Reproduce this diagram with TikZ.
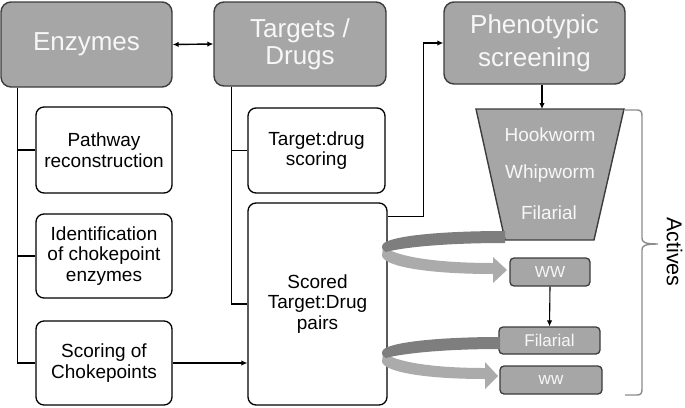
\documentclass[tikz,border=0pt]{standalone}
\usepackage{fontspec}
\setmainfont{Liberation Sans}
\usetikzlibrary{arrows.meta}
\definecolor{boxgray}{HTML}{A6A6A6}
\definecolor{edgegray}{HTML}{3C3C3C}
\definecolor{darkband}{HTML}{7E7E7E}
\definecolor{lightband}{HTML}{ABABAB}
\definecolor{bracegray}{HTML}{8C8C8C}
\definecolor{textwhite}{HTML}{F7F7F7}
\begin{document}
\begin{tikzpicture}[x=1pt,y=-1pt,
  hdr/.style={draw=edgegray, fill=boxgray, line width=1.4pt, rounded corners=10pt, text=textwhite, align=center, inner sep=0pt},
  sub/.style={draw=black, fill=white, line width=1.3pt, rounded corners=8pt, align=center, inner sep=0pt, font=\fontsize{19}{20.5}\selectfont},
  tag/.style={draw=edgegray, fill=boxgray, line width=1.3pt, rounded corners=4pt, text=textwhite, inner sep=0pt},
  ftext/.style={text=textwhite, font=\fontsize{19}{20}\selectfont, inner sep=0pt},
  conn/.style={draw=black, line width=1.4pt},
  tip/.style={-{Latex[length=6pt,width=5.5pt]}}
  ]
\useasboundingbox (0,0) rectangle (685,407);

% header boxes
\node[hdr, minimum width=171pt, minimum height=85pt, font=\fontsize{26}{27}\selectfont] (enz) at (86.5,44.5) {Enzymes};
\node[hdr, minimum width=172pt, minimum height=84pt, font=\fontsize{26}{27}\selectfont] (tgt) at (300,44) {Targets /\\Drugs};
\node[hdr, minimum width=181pt, minimum height=82pt, font=\fontsize{26}{33}\selectfont] (phen) at (534.5,43) {Phenotypic\\screening};

% white boxes
\node[sub, minimum width=136pt, minimum height=86pt] (path) at (104,150) {Pathway\\reconstruction};
\node[sub, minimum width=136pt, minimum height=84pt] (ident) at (104,256) {Identification\\of chokepoint\\enzymes};
\node[sub, minimum width=136pt, minimum height=84pt] (scoring) at (104,363) {Scoring of\\Chokepoints};
\node[sub, minimum width=137pt, minimum height=85pt] (tds) at (316.5,150.5) {Target:drug\\scoring};
\node[sub, minimum width=139pt, minimum height=202pt] (scored) at (317.5,304) {Scored\\Target:Drug\\pairs};

% funnel
\filldraw[draw=edgegray, fill=boxgray, line width=1.4pt] (476,109) -- (624,109) -- (594,240) -- (505,240) -- cycle;
\coordinate (ftop) at (542,109);
\node[ftext] (hook) at (550,135) {Hookworm};
\node[ftext] (whip) at (550,174) {Whipworm};
\node[ftext] (fil1) at (549,213) {Filarial};

% small tags
\node[tag, minimum width=80pt, minimum height=28pt, font=\fontsize{16}{17}\selectfont] (ww1) at (550,272) {WW};
\node[tag, minimum width=101pt, minimum height=27pt, font=\fontsize{17}{18}\selectfont] (fil2) at (549.5,340.5) {Filarial};
\node[tag, minimum width=102pt, minimum height=28pt, font=\fontsize{17}{18}\selectfont] (ww2) at (551,380) {ww};

% connectors
\draw[conn, {Latex[length=6pt,width=5.5pt]}-{Latex[length=6pt,width=5.5pt]}] (enz.east) -- (tgt.west);
\coordinate (etrunk) at ([xshift=17pt]enz.south west);
\draw[conn] (etrunk) |- (path.west);
\draw[conn] (etrunk) |- (ident.west);
\draw[conn] (etrunk) |- (scoring.west);
\coordinate (ttrunk) at ([xshift=18pt]tgt.south west);
\draw[conn] (ttrunk) |- (tds.west);
\draw[conn] (ttrunk) |- (scored.west);
\draw[conn, tip] (scoring.east) -- (scoring.east -| scored.west);
\coordinate (sout) at ([yshift=-14pt]scored.north east);
\draw[conn, tip] (sout) -- ++(36,0) |- (phen.west);
\draw[conn, tip] (ftop |- phen.south) -- (ftop);
\draw[conn, line width=1.1pt, tip] (ww1.south) -- (fil2.north);

% curved ribbon arrows
\fill[lightband] (383,246) .. controls (390,253) and (420,263) .. (493,263) -- (493,257) -- (507,270) -- (493,283) -- (493,274) .. controls (430,274) and (385,267) .. (382,256) -- cycle;
\fill[darkband] (505,231) .. controls (440,231) and (390,236) .. (383,244) .. controls (381,247) and (382,250) .. (386,252) .. controls (400,248) and (440,243) .. (505,243) -- cycle;

\fill[lightband] (383,352) .. controls (390,359) and (420,368) .. (485,368) -- (485,362) -- (498,376) -- (485,389) -- (485,379) .. controls (425,379) and (385,372) .. (382,362) -- cycle;
\fill[darkband] (500,337) .. controls (440,337) and (390,342) .. (383,350) .. controls (381,353) and (382,356) .. (386,358) .. controls (400,354) and (440,349) .. (500,349) -- cycle;

% brace
\draw[bracegray, line width=1.4pt] (625,110) -- (637,110) .. controls (641,110) and (642,112) .. (642,116) -- (642,238) .. controls (642,242) and (644,244) .. (658,244) .. controls (644,244) and (642,246) .. (642,250) -- (642,389) .. controls (642,393) and (641,395) .. (637,395) -- (625,395);
\node[rotate=-90, font=\fontsize{21.5}{22}\selectfont, inner sep=0pt] (act) at (674.5,252) {Actives};
\end{tikzpicture}
\end{document}
